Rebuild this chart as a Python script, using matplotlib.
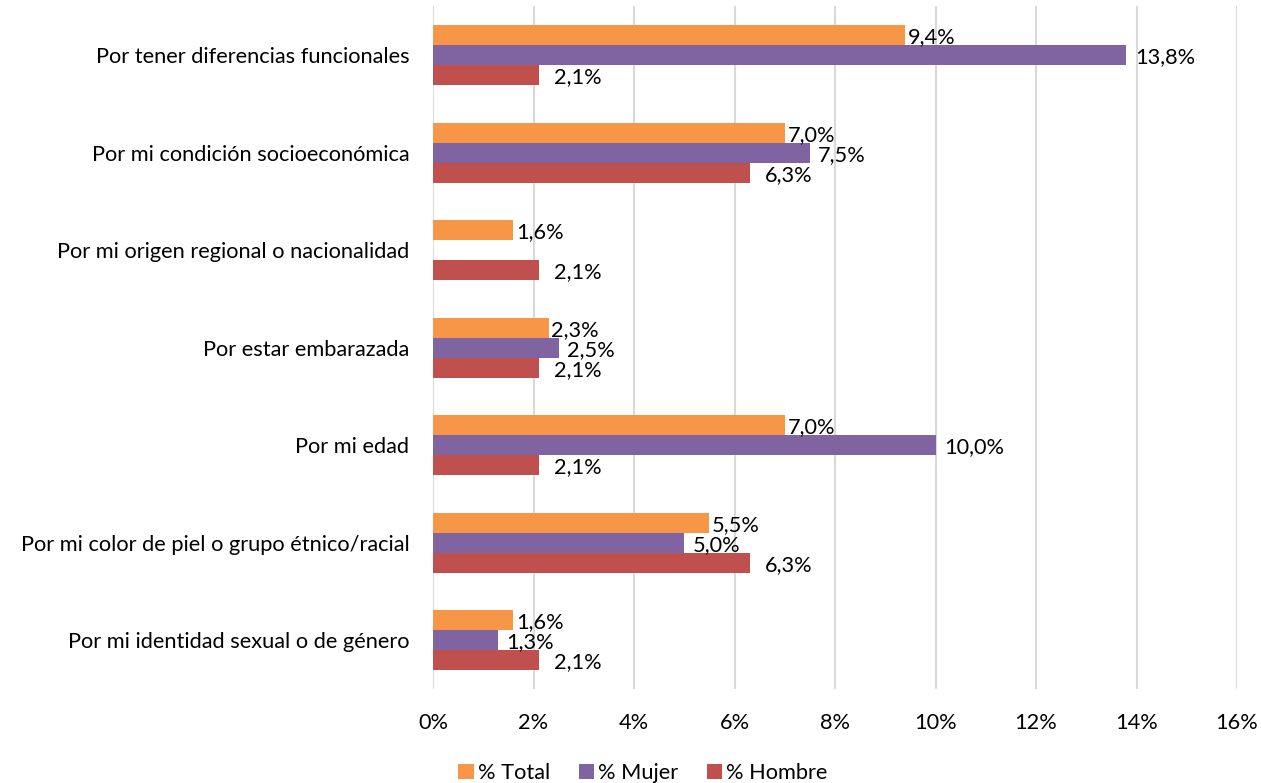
import matplotlib.pyplot as plt
import numpy as np

categories = [
    'Por tener diferencias funcionales',
    'Por mi condición socioeconómica',
    'Por mi origen regional o nacionalidad',
    'Por estar embarazada',
    'Por mi edad',
    'Por mi color de piel o grupo étnico/racial',
    'Por mi identidad sexual o de género',
]
total = [9.4, 7.0, 1.6, 2.3, 7.0, 5.5, 1.6]
mujer = [13.8, 7.5, None, 2.5, 10.0, 5.0, 1.3]
hombre = [2.1, 6.3, 2.1, 2.1, 2.1, 6.3, 2.1]

# name, values, colour, label x-offset (points)
series = [('% Total', total, '#F79646', 2),
          ('% Mujer', mujer, '#8064A2', 6),
          ('% Hombre', hombre, '#C0504D', 11)]

plt.rcParams['font.family'] = ['Lato', 'DejaVu Sans']
FS = 15.7

fig = plt.figure(figsize=(12.61, 7.83), dpi=100)
ax = fig.add_axes([0.3434, 0.12, 0.6376, 0.872])

y = np.arange(len(categories))
h = 0.205
for i, (name, vals, color, dx) in enumerate(series):
    pos = y + (i - 1) * h
    v = [np.nan if x is None else x for x in vals]
    ax.barh(pos, v, height=h, color=color, label=name, zorder=3)
    for p, x in zip(pos, vals):
        if x is None:
            continue
        ax.annotate(f'{x:.1f}%'.replace('.', ','), (x, p), xytext=(dx, -1.5),
                    textcoords='offset points', ha='left', va='center',
                    fontsize=FS, color='#000000', zorder=4)

ax.set_xlim(0, 16)
ax.set_ylim(len(categories) - 0.5, -0.5)
ax.set_yticks(y)
ax.set_yticklabels(categories, fontsize=FS)
ax.set_xticks(np.arange(0, 17, 2))
ax.set_xticklabels([f'{t}%' for t in range(0, 17, 2)], fontsize=FS)
ax.tick_params(length=0)
ax.tick_params(axis='y', pad=17)
ax.tick_params(axis='x', pad=17)
ax.grid(axis='x', color='#D9D9D9', linewidth=1.5, zorder=0)
for s in ax.spines.values():
    s.set_visible(False)

fig.legend(loc='lower center', bbox_to_anchor=(0.51, -0.025), ncol=3, frameon=False,
           fontsize=FS, handlelength=0.7, handleheight=0.7, handletextpad=0.2,
           columnspacing=1.3)

fig.savefig('out.png', dpi=100)
